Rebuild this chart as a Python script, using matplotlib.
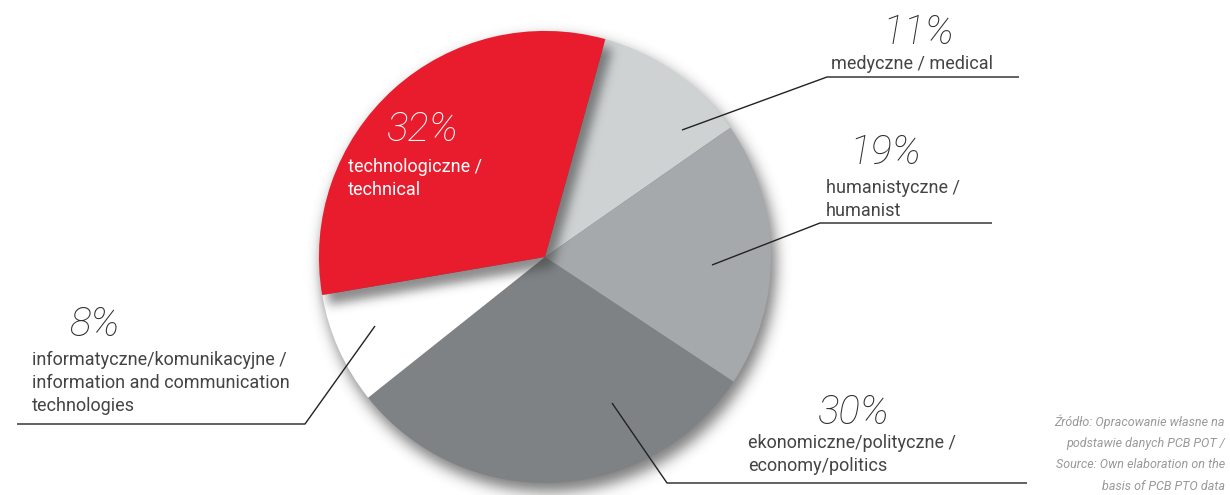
import numpy as np
import matplotlib
matplotlib.use("Agg")
import matplotlib.pyplot as plt

# udział dziedzin (w %), kolejność zgodnie z ruchem wskazówek zegara
fields = ["medyczne / medical",
          "humanistyczne /\nhumanist",
          "ekonomiczne/polityczne /\neconomy/politics",
          "informatyczne/komunikacyjne /\ninformation and communication\ntechnologies",
          "technologiczne /\ntechnical"]
shares = [11, 19, 30, 8, 32]
colors = ["#CED2D3", "#A5A9AB", "#7E8284", "#FFFFFF", "#E81C2C"]
explode = [0, 0, 0, 0, 0.084]
source = ("Źródło: Opracowanie własne na\npodstawie danych PCB POT /\n"
          "Source: Own elaboration on the\nbasis of PCB PTO data")

W, H = 1230, 495
CX, CY, R = 545, 495 - 257, 226

plt.rcParams["font.family"] = ["Roboto", "DejaVu Sans"]

fig = plt.figure(figsize=(W / 100, H / 100), dpi=100)
ax = fig.add_axes([0, 0, 1, 1])


def blur(a, s):
    k = np.arange(-3 * s, 3 * s + 1)
    g = np.exp(-k ** 2 / (2.0 * s * s))
    g /= g.sum()
    a = np.apply_along_axis(lambda r: np.convolve(r, g, "same"), 0, a)
    a = np.apply_along_axis(lambda r: np.convolve(r, g, "same"), 1, a)
    return a


def shadow_layer(mask, shade, alpha, z):
    img = np.zeros((H, W, 4))
    img[..., :3] = shade
    img[..., 3] = np.clip(mask, 0, 1) * alpha
    ax.imshow(img, origin="lower", extent=(0, W, 0, H), zorder=z,
              interpolation="bilinear", aspect="auto")


def lines(x, y, text, step, **kw):
    # każda linia osobno, y = środek pierwszej linii (piksele od góry)
    for j, s in enumerate(text.split("\n")):
        ax.text(x, H - (y + j * step), s, va="center", zorder=5, **kw)


wedges, _ = ax.pie(shares, colors=colors, explode=explode, startangle=74.5,
                   counterclock=False, center=(CX, CY), radius=R,
                   wedgeprops=dict(linewidth=0), frame=True)

gx, gy = np.meshgrid(np.arange(W) + 0.5, np.arange(H) + 0.5)
pts = np.column_stack([gx.ravel(), gy.ravel()])

# cień całego koła
disc = ((gx - CX - 4) ** 2 + (gy - CY + 8) ** 2 <= (R + 1) ** 2).astype(float)
shadow_layer(blur(disc, 7), 0.22, 0.65, 0.5)

# cień wysuniętego wycinka
red = wedges[-1]
red_path = red.get_path()
red_mask = red_path.contains_points(pts - np.array([7, -10])).reshape(H, W)
shadow_layer(blur(red_mask.astype(float), 5), 0.25, 0.6, 1.5)

for i, w in enumerate(wedges):
    w.set_zorder(2 if i == len(wedges) - 1 else 1)

ax.set_xlim(0, W)
ax.set_ylim(0, H)
ax.set_aspect("auto")
ax.axis("off")

# etykiety: (x procentu, y procentu, x opisu, y pierwszej linii opisu)
txt_pos = [(918, 33, 831, 64),
           (885, 153, 826, 188),
           (853, 413, 748, 443),
           (95, 325, 32, 360),
           (422, 130, 348, 167)]
# linie odniesienia: punkt w wycinku, załamanie, koniec
leaders = [[(682, 130), (827, 77), (1019, 77)],
           [(712, 265), (820, 223), (992, 223)],
           [(612, 403), (667, 483), (1027, 483)],
           [(375, 326), (305, 424), (17, 424)],
           None]

for i, (name, val) in enumerate(zip(fields, shares)):
    px, py, lx, ly = txt_pos[i]
    tc = "white" if i == len(fields) - 1 else "#444444"
    pc = "white" if i == len(fields) - 1 else "#2E2E2E"
    ax.text(px, H - py, f"{val}%", fontsize=29, style="italic",
            fontweight="light", color=pc, ha="center", va="center",
            zorder=5)
    lines(lx, ly, name, 23, fontsize=13, color=tc, ha="left")
    if leaders[i] is not None:
        xs = [p[0] for p in leaders[i]]
        ys = [H - p[1] for p in leaders[i]]
        ax.plot(xs, ys, color="#222222", lw=1.0, zorder=4,
                solid_capstyle="butt")

lines(1225, 422, source, 21.5, fontsize=9, style="italic",
      color="#999999", ha="right")

fig.savefig("out.png", dpi=100, facecolor="white")
